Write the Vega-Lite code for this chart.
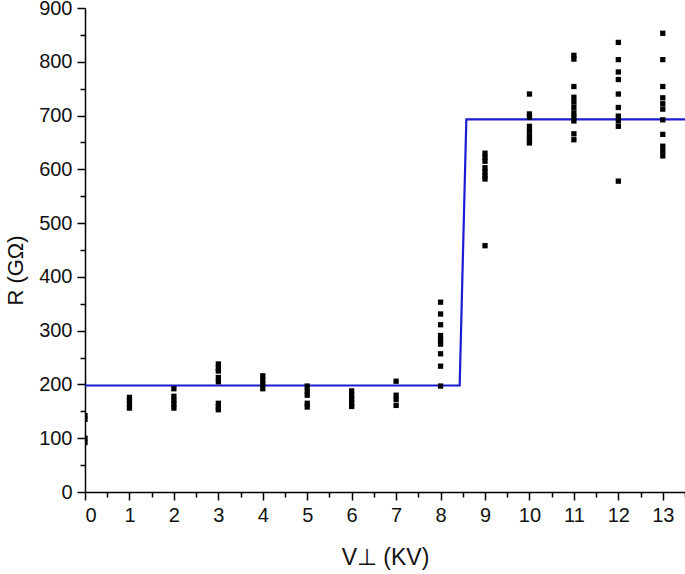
{
  "$schema": "https://vega.github.io/schema/vega-lite/v6.json",
  "width": 600,
  "height": 484,
  "autosize": {"type": "none"},
  "padding": {"left": 85, "top": 8, "right": 0, "bottom": 82},
  "background": "white",
  "config": {
    "view": {"stroke": null},
    "font": "Liberation Sans",
    "axis": {"grid": false, "domainColor": "black", "tickColor": "black", "labelColor": "#111111", "titleColor": "#111111", "domainWidth": 1.5, "tickWidth": 1.5, "labelFont": "Liberation Sans", "titleFont": "Liberation Sans", "titleFontWeight": "normal"}
  },
  "datasets": {
    "pts": [
      {"v": 0, "r": 142}, {"v": 0, "r": 135}, {"v": 0, "r": 100}, {"v": 0, "r": 92},
      {"v": 1, "r": 176}, {"v": 1, "r": 170}, {"v": 1, "r": 163}, {"v": 1, "r": 156},
      {"v": 2, "r": 192}, {"v": 2, "r": 178}, {"v": 2, "r": 170}, {"v": 2, "r": 163}, {"v": 2, "r": 156},
      {"v": 3, "r": 238}, {"v": 3, "r": 230}, {"v": 3, "r": 225}, {"v": 3, "r": 213}, {"v": 3, "r": 205}, {"v": 3, "r": 165}, {"v": 3, "r": 158}, {"v": 3, "r": 153},
      {"v": 4, "r": 216}, {"v": 4, "r": 208}, {"v": 4, "r": 200}, {"v": 4, "r": 192},
      {"v": 5, "r": 197}, {"v": 5, "r": 188}, {"v": 5, "r": 180}, {"v": 5, "r": 165}, {"v": 5, "r": 158},
      {"v": 6, "r": 188}, {"v": 6, "r": 180}, {"v": 6, "r": 172}, {"v": 6, "r": 165}, {"v": 6, "r": 159},
      {"v": 7, "r": 206}, {"v": 7, "r": 180}, {"v": 7, "r": 172}, {"v": 7, "r": 161},
      {"v": 8, "r": 353}, {"v": 8, "r": 331}, {"v": 8, "r": 311}, {"v": 8, "r": 291}, {"v": 8, "r": 283}, {"v": 8, "r": 275}, {"v": 8, "r": 257}, {"v": 8, "r": 234}, {"v": 8, "r": 197},
      {"v": 9, "r": 630}, {"v": 9, "r": 622}, {"v": 9, "r": 615}, {"v": 9, "r": 603}, {"v": 9, "r": 595}, {"v": 9, "r": 588}, {"v": 9, "r": 582}, {"v": 9, "r": 458},
      {"v": 10, "r": 740}, {"v": 10, "r": 703}, {"v": 10, "r": 697}, {"v": 10, "r": 680}, {"v": 10, "r": 671}, {"v": 10, "r": 662}, {"v": 10, "r": 655}, {"v": 10, "r": 649},
      {"v": 11, "r": 812}, {"v": 11, "r": 805}, {"v": 11, "r": 754}, {"v": 11, "r": 734}, {"v": 11, "r": 725}, {"v": 11, "r": 715}, {"v": 11, "r": 705}, {"v": 11, "r": 697}, {"v": 11, "r": 690}, {"v": 11, "r": 666}, {"v": 11, "r": 655},
      {"v": 12, "r": 836}, {"v": 12, "r": 804}, {"v": 12, "r": 781}, {"v": 12, "r": 767}, {"v": 12, "r": 740}, {"v": 12, "r": 715}, {"v": 12, "r": 699}, {"v": 12, "r": 690}, {"v": 12, "r": 680}, {"v": 12, "r": 578},
      {"v": 13, "r": 853}, {"v": 13, "r": 804}, {"v": 13, "r": 754}, {"v": 13, "r": 733}, {"v": 13, "r": 722}, {"v": 13, "r": 712}, {"v": 13, "r": 692}, {"v": 13, "r": 665}, {"v": 13, "r": 643}, {"v": 13, "r": 634}, {"v": 13, "r": 625}
    ],
    "fit": [
      {"v": 0, "r": 198, "o": 1},
      {"v": 8.43, "r": 198, "o": 2},
      {"v": 8.58, "r": 693, "o": 3},
      {"v": 13.5, "r": 693, "o": 4}
    ]
  },
  "layer": [
    {
      "data": {"name": "fit"},
      "mark": {"type": "line", "color": "#1c1cd2", "strokeWidth": 2.2, "clip": true},
      "encoding": {
        "x": {"field": "v", "type": "quantitative", "scale": {"domain": [0, 13.5], "nice": false, "zero": false},
              "axis": {"orient": "bottom", "values": [0.5,1.5,2.5,3.5,4.5,5.5,6.5,7.5,8.5,9.5,10.5,11.5,12.5,13.5], "labels": false, "tickSize": 5, "domain": false, "title": null}},
        "y": {"field": "r", "type": "quantitative", "scale": {"domain": [0, 900], "nice": false},
              "axis": {"orient": "left", "values": [50,150,250,350,450,550,650,750,850], "labels": false, "tickSize": 5, "domain": false, "title": null}},
        "order": {"field": "o"}
      }
    },
    {
      "data": {"name": "pts"},
      "mark": {"type": "point", "shape": "square", "filled": true, "color": "black", "size": 28, "opacity": 1, "clip": true},
      "encoding": {
        "x": {"field": "v", "type": "quantitative", "scale": {"domain": [0, 13.5], "nice": false, "zero": false},
              "axis": {"orient": "bottom", "values": [0,1,2,3,4,5,6,7,8,9,10,11,12,13], "tickSize": 8, "labelFontSize": 20, "labelPadding": 5, "title": "V⊥ (KV)", "titleFontSize": 23, "titlePadding": 21}},
        "y": {"field": "r", "type": "quantitative", "scale": {"domain": [0, 900], "nice": false},
              "axis": {"orient": "left", "values": [0,100,200,300,400,500,600,700,800,900], "tickSize": 8, "labelFontSize": 20, "labelPadding": 5, "title": "R (GΩ)", "titleFontSize": 22, "titlePadding": 11, "titleY": 262}}
      }
    }
  ],
  "resolve": {"axis": {"x": "independent", "y": "independent"}}
}
